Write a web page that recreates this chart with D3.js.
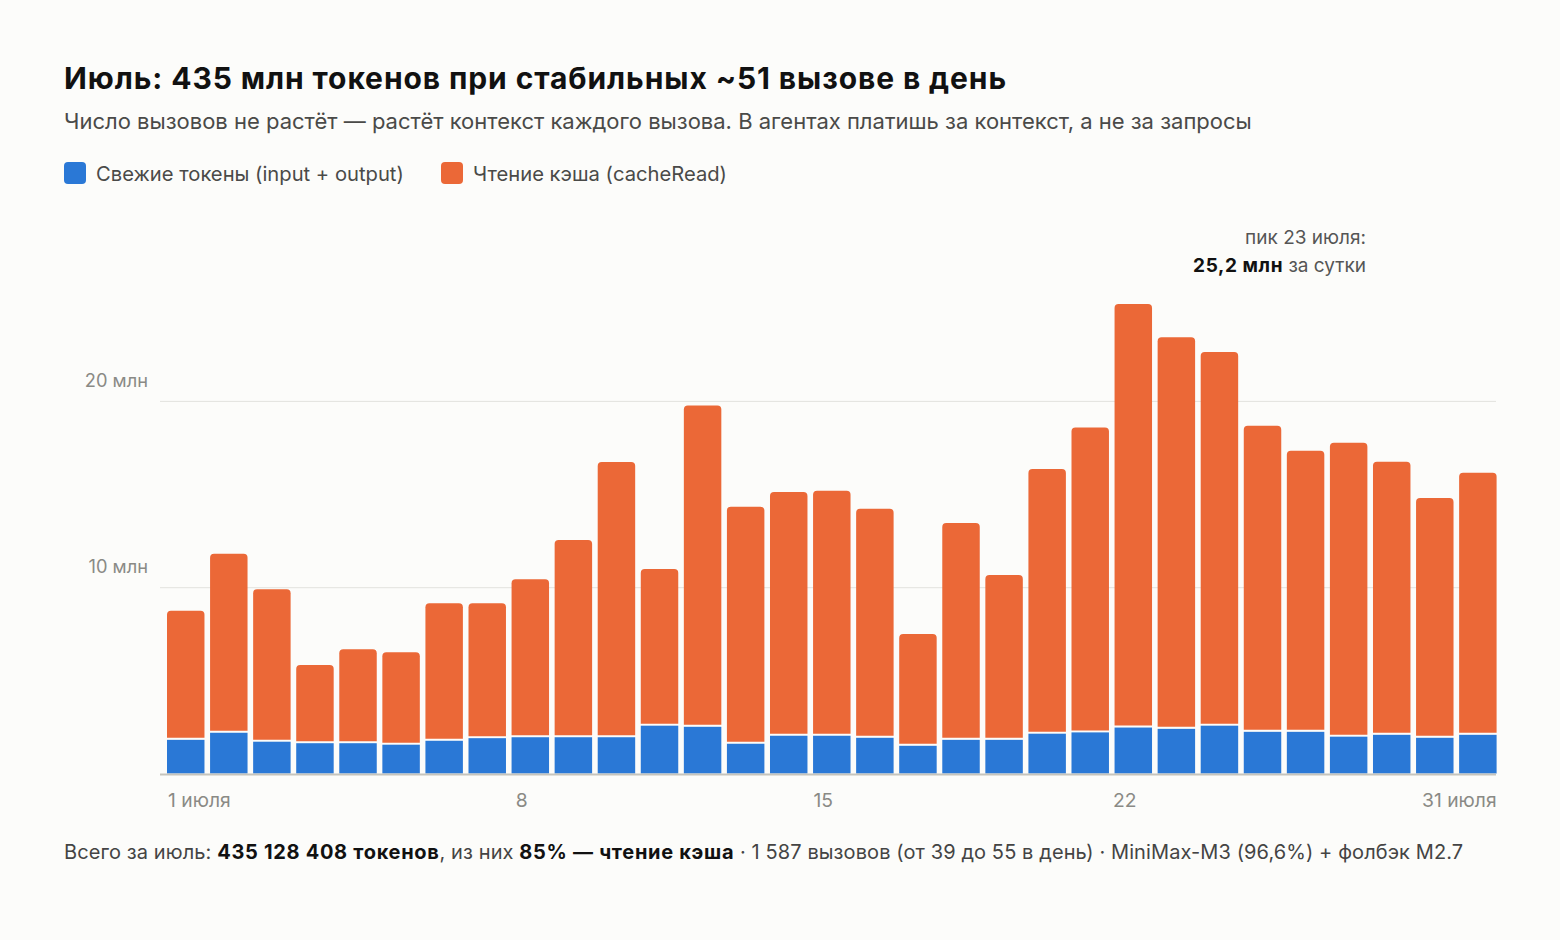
<!DOCTYPE html>
<html>
<head>
<meta charset="utf-8">
<script src="https://cdn.jsdelivr.net/npm/d3@7"></script>
<style>
  body { margin: 0; background: #fcfcfa; }
  svg { display: block; font-family: Inter, "Noto Sans", sans-serif; }
</style>
</head>
<body>
<svg id="chart"></svg>
<script>
/* data, millions of tokens per day */
const days = d3.range(1, 32);
const freshTokens = [1.86, 2.24, 1.76, 1.68, 1.68, 1.60, 1.81, 1.95, 2.00, 2.00, 2.00,
    2.62, 2.56, 1.65, 2.08, 2.08, 1.97, 1.54, 1.86, 1.86, 2.19, 2.26, 2.52, 2.45, 2.62,
    2.29, 2.29, 2.03, 2.13, 1.97, 2.13];
const cacheRead = [6.87, 9.55, 8.13, 4.14, 4.99, 4.91, 7.33, 7.19, 8.43, 10.53, 14.72,
    8.36, 17.19, 12.67, 13.03, 13.10, 12.24, 5.95, 11.58, 8.80, 14.15, 16.31, 22.68, 20.96,
    20.00, 16.37, 15.03, 15.72, 14.60, 12.82, 14.02];
const seriesNames = ["Свежие токены (input + output)", "Чтение кэша (cacheRead)"];
const seriesColors = ["#2a78d6", "#eb6837"];
const yTicks = [10, 20];
const xTicks = [1, 8, 15, 22, 31];
const xTickLabels = ["1 июля", "8", "15", "22", "31 июля"];

/* svg size */
const width = 1560;
const height = 940;

const svg = d3.select("#chart")
    .attr("width", width)
    .attr("height", height);

/* scales */
const x = d3.scaleBand()
    .domain(days)
    .range([167, 1496.6])
    .paddingInner(0.13)
    .paddingOuter(0);

const y = d3.scaleLinear()
    .domain([0, 26])
    .range([773.5, 773.5 - 26 * 18.63]);

/* title block */
svg.append("text")
    .attr("x", 64).attr("y", 89)
    .attr("font-size", 30).attr("font-weight", 700).attr("fill", "#111")
    .attr("letter-spacing", 0.9)
    .text("Июль: 435 млн токенов при стабильных ~51 вызове в день");

svg.append("text")
    .attr("x", 64).attr("y", 129)
    .attr("font-size", 22).attr("fill", "#4a4a48")
    .text("Число вызовов не растёт — растёт контекст каждого вызова. В агентах платишь за контекст, а не за запросы");

/* legend */
const legendX = [64, 441];
const legend = svg.selectAll(".legend")
    .data(seriesNames)
    .enter().append("g")
    .attr("class", "legend")
    .attr("transform", (d, i) => `translate(${legendX[i]},162)`);

legend.append("rect")
    .attr("width", 22).attr("height", 22).attr("rx", 4)
    .attr("fill", (d, i) => seriesColors[i]);

legend.append("text")
    .attr("x", 32).attr("y", 19)
    .attr("font-size", 20.2).attr("fill", "#4a4a48")
    .text(d => d);

/* gridlines + y labels */
svg.selectAll(".grid")
    .data(yTicks)
    .enter().append("line")
    .attr("x1", 160).attr("x2", 1496)
    .attr("y1", d => y(d) + 0.5).attr("y2", d => y(d) + 0.5)
    .attr("stroke", "#e2e2de").attr("stroke-width", 1);

svg.selectAll(".ylab")
    .data(yTicks)
    .enter().append("text")
    .attr("x", 148).attr("y", d => y(d) - 14)
    .attr("text-anchor", "end")
    .attr("font-size", 18.3).attr("fill", "#8a8a85")
    .text(d => d + " млн");

/* stacked bars */
const rows = days.map((d, i) => ({ day: d, fresh: freshTokens[i], cache: cacheRead[i] }));
const stacked = d3.stack().keys(["fresh", "cache"])(rows);

function topRounded(x0, y0, w, h, r) {
    return `M${x0},${y0 + h}V${y0 + r}Q${x0},${y0} ${x0 + r},${y0}H${x0 + w - r}Q${x0 + w},${y0} ${x0 + w},${y0 + r}V${y0 + h}Z`;
}

const bw = x.bandwidth();

svg.selectAll(".fresh")
    .data(stacked[0])
    .enter().append("rect")
    .attr("class", "fresh")
    .attr("x", d => x(d.data.day))
    .attr("width", bw)
    .attr("y", d => y(d[1]) + 1)
    .attr("height", d => y(d[0]) - y(d[1]) - 1)
    .attr("fill", seriesColors[0]);

svg.selectAll(".cache")
    .data(stacked[1])
    .enter().append("path")
    .attr("class", "cache")
    .attr("d", d => topRounded(x(d.data.day), y(d[1]), bw, y(d[0]) - y(d[1]) - 1, 4))
    .attr("fill", seriesColors[1]);

/* x axis line */
svg.append("line")
    .attr("x1", 160).attr("x2", 1496)
    .attr("y1", y(0) + 1).attr("y2", y(0) + 1)
    .attr("stroke", "#c6c4bc").attr("stroke-width", 2);

svg.selectAll(".xlab")
    .data(xTicks)
    .enter().append("text")
    .attr("x", (d, i) => {
        if (i === 0) return x(d) + 1;
        if (i === xTicks.length - 1) return x(d) + bw;
        return x(d) + bw / 2 + x.step() * 0.8;
    })
    .attr("y", 807)
    .attr("text-anchor", (d, i) => i === 0 ? "start" : (i === xTicks.length - 1 ? "end" : "middle"))
    .attr("font-size", 19.3).attr("fill", "#8a8a85")
    .text((d, i) => xTickLabels[i]);

/* peak annotation */
const ann = svg.append("g").attr("font-size", 19).attr("text-anchor", "end");
ann.append("text")
    .attr("x", 1366).attr("y", 244)
    .attr("fill", "#555")
    .text("пик 23 июля:");
const annLine = ann.append("text").attr("x", 1366).attr("y", 272).attr("fill", "#555");
annLine.append("tspan").attr("font-weight", 700).attr("fill", "#111")
    .attr("letter-spacing", 0.6).text("25,2 млн");
annLine.append("tspan").text(" за сутки");

/* footer */
const foot = svg.append("text")
    .attr("x", 64).attr("y", 859)
    .attr("font-size", 20).attr("fill", "#444");
const footParts = [
    ["Всего за июль: ", false],
    ["435 128 408 токенов", true],
    [", из них ", false],
    ["85% — чтение кэша", true],
    [" · 1 587 вызовов (от 39 до 55 в день) · MiniMax-M3 (96,6%) + фолбэк M2.7", false]
];
footParts.forEach(p => {
    foot.append("tspan")
        .attr("font-weight", p[1] ? 700 : 400)
        .attr("fill", p[1] ? "#111" : "#444")
        .attr("letter-spacing", p[1] ? 0.7 : 0.1)
        .text(p[0]);
});
</script>
</body>
</html>
